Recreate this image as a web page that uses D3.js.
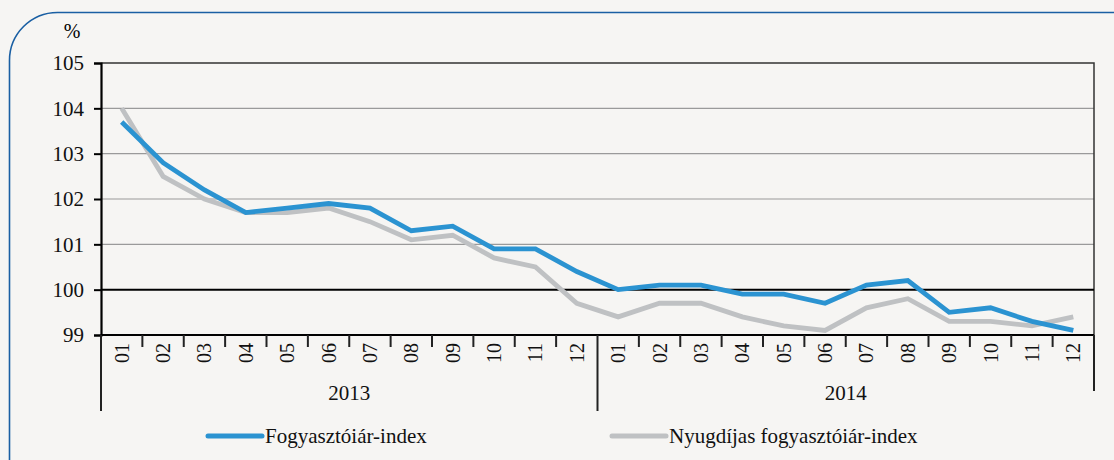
<!DOCTYPE html>
<html>
<head>
<meta charset="utf-8">
<script src="https://cdn.jsdelivr.net/npm/d3@7"></script>
<style>
  body { margin: 0; background: #f6f5f3; }
</style>
</head>
<body>
<div id="canvas"></div>
<script>
"use strict"

let svgWidth = 1114
let svgHeight = 460

// months shown on the axis, two years
let months = ["01", "02", "03", "04", "05", "06", "07", "08", "09", "10", "11", "12"]
let years = ["2013", "2014"]

// Fogyasztóiár-index
let cpi = [103.7, 102.8, 102.2, 101.7, 101.8, 101.9, 101.8, 101.3, 101.4, 100.9, 100.9, 100.4,
    100.0, 100.1, 100.1, 99.9, 99.9, 99.7, 100.1, 100.2, 99.5, 99.6, 99.3, 99.1]
// Nyugdíjas fogyasztóiár-index
let pensionerCpi = [104.0, 102.5, 102.0, 101.7, 101.7, 101.8, 101.5, 101.1, 101.2, 100.7, 100.5, 99.7,
    99.4, 99.7, 99.7, 99.4, 99.2, 99.1, 99.6, 99.8, 99.3, 99.3, 99.2, 99.4]

let yTicks = [99, 100, 101, 102, 103, 104, 105]
let seriesNames = ["Fogyasztóiár-index", "Nyugdíjas fogyasztóiár-index"]
let seriesColors = ["#2b93d1", "#bfc1c3"]

let serif = "'Liberation Serif'"

let margin = { top: 63, right: 20, bottom: 125, left: 101 }
let plotRight = 1094

let svg = d3.select("#canvas")
    .append("svg")
    .attr("width", svgWidth)
    .attr("height", svgHeight)

svg.append("rect")
    .attr("width", svgWidth)
    .attr("height", svgHeight)
    .attr("fill", "#f6f5f3")

// rounded blue frame
svg.append("rect")
    .attr("x", 9.5)
    .attr("y", 12.5)
    .attr("width", 1160)
    .attr("height", 500)
    .attr("rx", 48)
    .attr("fill", "none")
    .attr("stroke", "#1a5fa3")
    .attr("stroke-width", 1.6)

// category keys: year-month
let keys = []
years.forEach(function (y) {
    months.forEach(function (m) { keys.push(y + "-" + m) })
})

let xScale = d3.scaleBand()
    .domain(keys)
    .range([margin.left, plotRight])

let yScale = d3.scaleLinear()
    .domain([99, 105])
    .range([335, margin.top])

// gridlines
svg.append("g")
    .selectAll("line")
    .data(yTicks.filter(function (t) { return t > 100 && t < 105 }))
    .join("line")
    .attr("x1", margin.left)
    .attr("x2", plotRight)
    .attr("y1", function (d) { return yScale(d) })
    .attr("y2", function (d) { return yScale(d) })
    .attr("stroke", "#9a9a9a")
    .attr("stroke-width", 1.2)

// top and right border
svg.append("path")
    .attr("d", `M${margin.left},${yScale(105)}H${plotRight}V${yScale(99)}`)
    .attr("fill", "none")
    .attr("stroke", "#333")
    .attr("stroke-width", 1.5)

// y axis
let yAxis = d3.axisLeft(yScale)
    .tickValues(yTicks)
    .tickSize(7)
    .tickPadding(10)
    .tickFormat(d3.format("d"))

let yAxisG = svg.append("g")
    .attr("transform", `translate(${margin.left},0)`)
    .call(yAxis)
yAxisG.select(".domain").attr("stroke", "#000").attr("stroke-width", 2.2)
yAxisG.selectAll(".tick line").attr("stroke", "#000").attr("stroke-width", 2)
yAxisG.selectAll("text")
    .style("font-family", serif)
    .style("font-size", "21px")
    .attr("fill", "#111")

svg.append("text")
    .attr("x", 72)
    .attr("y", 38)
    .attr("text-anchor", "middle")
    .style("font-family", serif)
    .style("font-size", "20px")
    .text("%")

// 100 line
svg.append("line")
    .attr("x1", margin.left)
    .attr("x2", plotRight)
    .attr("y1", yScale(100))
    .attr("y2", yScale(100))
    .attr("stroke", "#000")
    .attr("stroke-width", 2)

// x axis baseline
svg.append("line")
    .attr("x1", margin.left)
    .attr("x2", plotRight)
    .attr("y1", yScale(99))
    .attr("y2", yScale(99))
    .attr("stroke", "#000")
    .attr("stroke-width", 2)

// short ticks between months
let boundaries = keys.slice(1).filter(function (k) { return k.slice(5) !== "01" })
svg.append("g")
    .selectAll("line")
    .data(boundaries)
    .join("line")
    .attr("x1", function (d) { return xScale(d) })
    .attr("x2", function (d) { return xScale(d) })
    .attr("y1", yScale(99))
    .attr("y2", yScale(99) + 12)
    .attr("stroke", "#222")
    .attr("stroke-width", 2)

// long separators between years
let seps = [
    { x: xScale(keys[0]), bottom: 411 },
    { x: xScale(years[1] + "-01"), bottom: 411 },
    { x: plotRight, bottom: 391 }
]
svg.append("g")
    .selectAll("line")
    .data(seps)
    .join("line")
    .attr("x1", function (d) { return d.x })
    .attr("x2", function (d) { return d.x })
    .attr("y1", yScale(99))
    .attr("y2", function (d) { return d.bottom })
    .attr("stroke", "#222")
    .attr("stroke-width", 2)

// month labels (rotated)
svg.append("g")
    .selectAll("text")
    .data(keys)
    .join("text")
    .attr("transform", function (d) {
        let x = xScale(d) + xScale.bandwidth() / 2 + 7
        return `translate(${x},${yScale(99) + 8}) rotate(-90)`
    })
    .attr("text-anchor", "end")
    .style("font-family", serif)
    .style("font-size", "20px")
    .attr("fill", "#111")
    .text(function (d) { return d.slice(5) })

// year labels
svg.append("g")
    .selectAll("text")
    .data(years)
    .join("text")
    .attr("x", function (y) {
        return (xScale(y + "-01") + xScale(y + "-12") + xScale.bandwidth()) / 2
    })
    .attr("y", 400)
    .attr("text-anchor", "middle")
    .style("font-family", serif)
    .style("font-size", "21px")
    .attr("fill", "#111")
    .text(function (d) { return d })

// lines
let line = d3.line()
    .x(function (d, i) { return xScale(keys[i]) + xScale.bandwidth() / 2 })
    .y(function (d) { return yScale(d) })

let allSeries = [pensionerCpi, cpi]
let allColors = [seriesColors[1], seriesColors[0]]
svg.append("g")
    .selectAll("path")
    .data(allSeries)
    .join("path")
    .attr("d", function (d) { return line(d) })
    .attr("fill", "none")
    .attr("stroke", function (d, i) { return allColors[i] })
    .attr("stroke-width", 4.8)
    .attr("stroke-linejoin", "miter")

// legend
let legendX = [208, 612]
for (let i = 0; i < seriesNames.length; i++) {
    svg.append("line")
        .attr("x1", legendX[i])
        .attr("x2", legendX[i] + 54)
        .attr("y1", 436)
        .attr("y2", 436)
        .attr("stroke", seriesColors[i])
        .attr("stroke-width", 5)
        .attr("stroke-linecap", "round")

    svg.append("text")
        .attr("x", legendX[i] + 57)
        .attr("y", 443)
        .style("font-family", serif)
        .style("font-size", "21px")
        .attr("fill", "#111")
        .text(seriesNames[i])
}
</script>
</body>
</html>
